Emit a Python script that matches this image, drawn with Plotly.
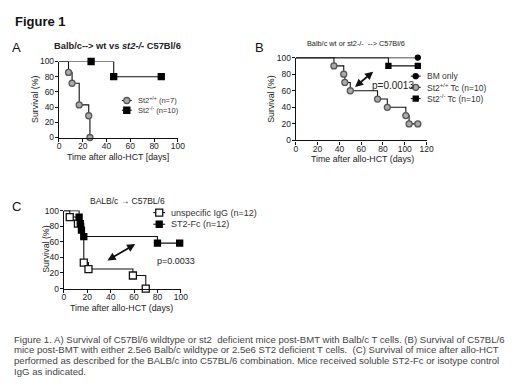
import plotly.graph_objects as go

# ---------------- data ----------------
# Panel A
a_wt_time = [0, 8, 11, 17, 25, 26]
a_wt_surv = [100, 85.7, 71.4, 42.9, 28.6, 0]
a_ko_time = [0, 27, 46, 86]
a_ko_surv = [100, 100, 80, 80]
# Panel B
b_bm_time = [0, 112]
b_bm_surv = [100, 100]
b_wt_time = [0, 35, 44, 45, 50, 75, 84, 101, 104, 112]
b_wt_surv = [100, 90, 80, 70, 60, 50, 40, 30, 20, 20]
b_ko_time = [0, 85, 112]
b_ko_surv = [100, 90, 90]
# Panel C
c_igg_time = [0, 5, 12, 17, 21, 59, 70]
c_igg_surv = [100, 91.7, 83.3, 33.3, 25, 16.7, 0]
c_fc_time = [0, 13, 14, 15, 17, 80, 99]
c_fc_surv = [100, 91.7, 83.3, 75, 66.7, 58.3, 58.3]

a_names = ["St2<sup>+/+</sup> (n=7)", "St2<sup>-/-</sup> (n=10)"]
b_names = ["BM only", "St2<sup>+/+</sup> Tc (n=10)", "St2<sup>-/-</sup> Tc (n=10)"]
c_names = ["unspecific IgG (n=12)", "ST2-Fc (n=12)"]
y_ticks = [0, 20, 40, 60, 80, 100]
x_ticks_ac = [0, 20, 40, 60, 80, 100]
x_ticks_b = [0, 20, 40, 60, 80, 100, 120]
p_b = "p=0.0013"
p_c = "p=0.0033"

caption = [
    "Figure 1. A) Survival of C57Bl/6 wildtype or st2  deficient mice post-BMT with Balb/c T cells. (B) Survival of C57BL/6",
    "mice post-BMT with either 2.5e6 Balb/c wildtype or 2.5e6 ST2 deficient T cells.  (C) Survival of mice after allo-HCT",
    "performed as described for the BALB/c into C57BL/6 combination. Mice received soluble ST2-Fc or isotype control",
    "IgG as indicated.",
]

# ---------------- figure ----------------
W, H = 520, 390
def px(x):
    return x / W
def py(y):
    return 1 - y / H

FONT = "Liberation Sans"
TXT = "#222"
fig = go.Figure()
ann = []

STY = {
    "wt": dict(symbol="circle", color="#555", fill="#aaa", size=6),
    "ko": dict(symbol="square", color="#000", fill="#000", size=6),
    "bm": dict(symbol="circle", color="#000", fill="#000", size=5),
    "kob": dict(symbol="square", color="#000", fill="#000", size=5),
    "igg": dict(symbol="square", color="#111", fill="#fff", size=7),
    "fc": dict(symbol="square", color="#000", fill="#000", size=6),
}

def mk(st):
    return dict(symbol=st["symbol"], color=st["fill"], size=st["size"], line=dict(color=st["color"], width=1.3))

def km(t, s, xa, ya, st):
    fig.add_trace(go.Scatter(x=t, y=s, mode="lines", line=dict(color="#111", width=1.1, shape="hv"),
                             xaxis=xa, yaxis=ya, showlegend=False, hoverinfo="skip", cliponaxis=False))
    fig.add_trace(go.Scatter(x=t[1:], y=s[1:], mode="markers", marker=mk(st), xaxis=xa, yaxis=ya,
                             showlegend=False, cliponaxis=False))

km(a_wt_time, a_wt_surv, "x", "y", STY["wt"])
km(a_ko_time, a_ko_surv, "x", "y", STY["ko"])
km(b_bm_time, b_bm_surv, "x2", "y2", STY["bm"])
km(b_wt_time, b_wt_surv, "x2", "y2", STY["wt"])
km(b_ko_time, b_ko_surv, "x2", "y2", STY["kob"])
km(c_igg_time, c_igg_surv, "x3", "y3", STY["igg"])
km(c_fc_time, c_fc_surv, "x3", "y3", STY["fc"])

# hand-made compact legends on an overlay pixel axis
def legend(cx, ys, names, styles, size, half=6):
    for y, name, st in zip(ys, names, styles):
        fig.add_trace(go.Scatter(x=[cx - half, cx + half], y=[y, y], mode="lines",
                                 line=dict(color="#111", width=1.1), xaxis="x4", yaxis="y4",
                                 showlegend=False, hoverinfo="skip"))
        fig.add_trace(go.Scatter(x=[cx], y=[y], mode="markers", marker=mk(st), xaxis="x4", yaxis="y4",
                                 showlegend=False, hoverinfo="skip"))
        ann.append(dict(x=(cx + half + 4) / W, y=py(y), xref="paper", yref="paper", text=name,
                        showarrow=False, xanchor="left", yanchor="middle",
                        font=dict(size=size, color="#333", family=FONT)))

legend(127, [98, 108], a_names, [STY["wt"], STY["ko"]], 7.5, half=5)
legend(421, [73, 84.5, 96], b_names, [STY["bm"], STY["wt"], STY["kob"]], 8.5, half=5)
legend(160, [213, 225], c_names, [STY["igg"], STY["fc"]], 9, half=6)

def axis(dom, rng, ticks, anchor, standoff):
    return dict(domain=dom, range=rng, tickvals=ticks, showline=True, linecolor="#111", linewidth=1.4,
                ticks="outside", ticklen=3, tickwidth=1.2, tickcolor="#111", showgrid=False,
                zeroline=False, tickfont=dict(size=8.5, color=TXT, family=FONT), anchor=anchor,
                fixedrange=True, ticklabelstandoff=standoff)

fig.update_layout(
    width=W, height=H, margin=dict(l=0, r=0, t=0, b=0),
    paper_bgcolor="white", plot_bgcolor="rgba(0,0,0,0)",
    font=dict(family=FONT, color=TXT), showlegend=False,
    xaxis=axis([px(58), px(179)], [0, 100], x_ticks_ac, "y", -3),
    yaxis=axis([py(136), py(58)], [0, 100], y_ticks, "x", -1),
    xaxis2=axis([px(299), px(432)], [0, 120], x_ticks_b, "y2", -3),
    yaxis2=axis([py(139), py(54)], [0, 100], y_ticks, "x2", -1),
    xaxis3=axis([px(63), px(182)], [0, 100], x_ticks_ac, "y3", -3),
    yaxis3=axis([py(291), py(211)], [0, 100], y_ticks, "x3", -1),
    xaxis4=dict(domain=[0, 1], range=[0, W], visible=False, anchor="y4", fixedrange=True),
    yaxis4=dict(domain=[0, 1], range=[H, 0], visible=False, anchor="x4", fixedrange=True),
)

def text(x, y, s, size, xanchor="left", bold=False, angle=0, color=TXT):
    ann.append(dict(x=px(x), y=py(y), xref="paper", yref="paper", text=("<b>%s</b>" % s) if bold else s,
                    showarrow=False, xanchor=xanchor, yanchor="middle", textangle=angle,
                    font=dict(size=size, color=color, family=FONT)))

text(11, 17, "Figure 1", 13, bold=True, color="#111")
text(8, 44, "A", 13, color="#111")
text(255, 44, "B", 13, color="#111")
text(8, 207, "C", 13, color="#111")
text(118, 42, "Balb/c--> wt vs <i>st2-/-</i> C57Bl/6", 9.3, xanchor="center", bold=True)
text(360, 40, "Balb/c wt or st2-/-  --> C57Bl/6", 7.3, xanchor="center")
text(128, 201, "BALB/c \u2192 C57BL/6", 8.5, xanchor="center")
text(118, 156, "Time after allo-HCT [days]", 8.8, xanchor="center")
text(367, 158, "Time after allo-HCT (days)", 8.8, xanchor="center")
text(122, 311, "Time after allo-HCT (days)", 8.8, xanchor="center")
text(33, 97, "Survival (%)", 8.8, xanchor="center", angle=-90)
text(273, 97, "Survival (%)", 8.8, xanchor="center", angle=-90)
text(44, 251, "Survival (%)", 8.8, xanchor="center", angle=-90)

for i, line in enumerate(caption):
    text(10, 343 + i * 11, line, 9.6, color="#444")

# p-values and arrows (data coordinates)
ann.append(dict(x=68, y=66, xref="x2", yref="y2", text=p_b, showarrow=False, xanchor="left",
                font=dict(size=10, color=TXT, family=FONT)))
ann.append(dict(x=78, y=35, xref="x3", yref="y3", text=p_c, showarrow=False, xanchor="left",
                font=dict(size=9, color=TXT, family=FONT)))
ann.append(dict(x=71, y=83, ax=53, ay=63, xref="x2", yref="y2", axref="x2", ayref="y2", text="",
                showarrow=True, arrowhead=2, arrowside="end+start", arrowwidth=1.8, arrowsize=0.9,
                arrowcolor="#111"))
ann.append(dict(x=61, y=57, ax=36, ay=35, xref="x3", yref="y3", axref="x3", ayref="y3", text="",
                showarrow=True, arrowhead=2, arrowside="end+start", arrowwidth=1.8, arrowsize=0.9,
                arrowcolor="#111"))
fig.update_layout(annotations=ann)

fig.write_html("out.html", config={"displayModeBar": False},
               post_script="document.body.style.margin='0px';")
